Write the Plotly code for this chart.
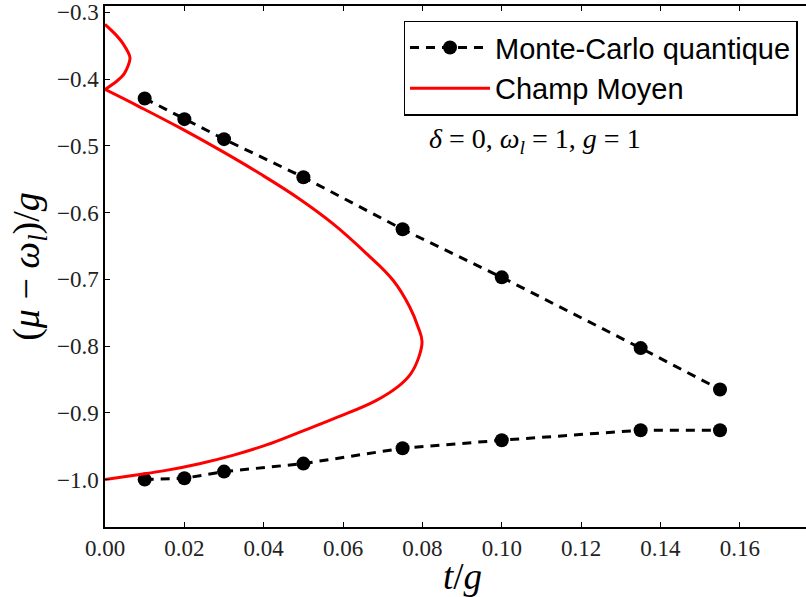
import plotly.graph_objects as go

# Monte-Carlo quantique data
mc_t = [0.01, 0.02, 0.03, 0.05, 0.075, 0.10, 0.135, 0.155]
mc_upper = [-0.429, -0.460, -0.490, -0.547, -0.625, -0.697, -0.803, -0.865]
mc_lower = [-1.000, -0.998, -0.988, -0.976, -0.953, -0.941, -0.926, -0.926]
mc_err = [0.003, 0.003, 0.003, 0.003, 0.003, 0.003, 0.003, 0.003]

# Champ Moyen (mean field) curve
cm_loop_t = [0.0, 0.0024, 0.0045, 0.0063, 0.0049, 0.0028, 0.0]
cm_loop_mu = [-0.318, -0.3315, -0.3465, -0.368, -0.3915, -0.404, -0.4155]
cm_main_t = [0.0, 0.0087, 0.0188, 0.0289, 0.0390, 0.0491, 0.0575, 0.0659, 0.0726,
             0.0768, 0.0789, 0.0799, 0.0790, 0.0770, 0.0740, 0.0684, 0.0580,
             0.0491, 0.0407, 0.0322, 0.0238, 0.0154, 0.0070, 0.0]
cm_main_mu = [-0.4155, -0.4415, -0.4728, -0.5061, -0.5415, -0.5799, -0.6169, -0.6614,
              -0.7014, -0.7414, -0.7714, -0.793, -0.818, -0.842, -0.860, -0.8813,
              -0.908, -0.9288, -0.9480, -0.9637, -0.9762, -0.9862, -0.9937, -1.0]

y_ticks = [-1.0, -0.9, -0.8, -0.7, -0.6, -0.5, -0.4, -0.3]
x_ticks = [0.0, 0.02, 0.04, 0.06, 0.08, 0.10, 0.12, 0.14, 0.16]

fig = go.Figure()

mc_style = dict(
    mode="lines+markers",
    line=dict(color="black", width=3, dash="9px,7px"),
    marker=dict(color="black", size=14),
)
fig.add_trace(go.Scatter(x=mc_t, y=mc_upper, name="Monte-Carlo quantique",
                         error_y=dict(type="data", array=mc_err, color="black",
                                      thickness=1.5, width=4),
                         legendgroup="mc", **mc_style))
fig.add_trace(go.Scatter(x=mc_t, y=mc_lower, name="Monte-Carlo quantique",
                         error_y=dict(type="data", array=mc_err, color="black",
                                      thickness=1.5, width=4),
                         legendgroup="mc", showlegend=False, **mc_style))

fig.add_trace(go.Scatter(x=cm_loop_t, y=cm_loop_mu, mode="lines", name="Champ Moyen",
                         line=dict(color="red", width=3, shape="spline", smoothing=0.8),
                         legendgroup="cm", showlegend=False))
fig.add_trace(go.Scatter(x=cm_main_t, y=cm_main_mu, mode="lines", name="Champ Moyen",
                         line=dict(color="red", width=3, shape="spline", smoothing=1.2),
                         legendgroup="cm"))

fig.add_annotation(x=0.1083, y=-0.4915, xref="x", yref="y", showarrow=False,
                   text="<i>δ</i> = 0, <i>ω</i><sub><i>l</i></sub> = 1, <i>g</i> = 1",
                   font=dict(family="Liberation Serif", size=28, color="black"))

axis_common = dict(showgrid=False, zeroline=False, showline=True, linecolor="black",
                   linewidth=1.5, ticks="inside", ticklen=5, tickcolor="black",
                   automargin=False,
                   tickfont=dict(family="Liberation Serif", size=23, color="#222"))

# figure a little wider than the window so the right spine falls outside the view
fig.update_layout(
    width=820, height=597,
    margin=dict(l=105, r=0, t=6, b=70),
    paper_bgcolor="white", plot_bgcolor="white",
    showlegend=True,
    legend=dict(x=0.4175, y=0.972, xanchor="left", yanchor="top",
                bgcolor="white", bordercolor="black", borderwidth=1.5,
                font=dict(family="Liberation Sans", size=29, color="black"),
                itemwidth=80, tracegroupgap=0),
    xaxis=dict(range=[0, 0.1802], tickvals=x_ticks, tickformat=".2f", mirror="ticks",
               title=dict(text="<i>t</i>/<i>g</i>", font=dict(family="Liberation Serif", size=37, color="black"),
                          standoff=2),
               **axis_common),
    yaxis=dict(range=[-1.071, -0.2905], tickvals=y_ticks, tickformat=".1f", mirror=False,
               title=dict(text="(<i>μ</i> − <i>ω</i><sub><i>l</i></sub>)/<i>g</i>",
                          font=dict(family="Liberation Serif", size=38, color="black"),
                          standoff=6),
               **axis_common),
)

fig.write_html("out.html", config={"displayModeBar": False},
               post_script="document.body.style.margin='0';document.body.style.overflow='hidden';")
